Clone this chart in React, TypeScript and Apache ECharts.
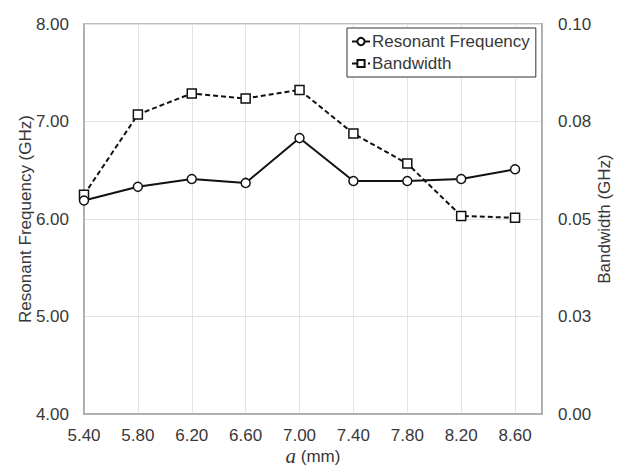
import React, { useEffect, useRef } from "react";
import * as echarts from "echarts";

const xValues = [5.4, 5.8, 6.2, 6.6, 7.0, 7.4, 7.8, 8.2, 8.6];
const xLabels = ["5.40", "5.80", "6.20", "6.60", "7.00", "7.40", "7.80", "8.20", "8.60"];
const resonantFreq = [6.19, 6.33, 6.41, 6.37, 6.83, 6.39, 6.39, 6.41, 6.51];
const bandwidth = [0.0562, 0.0768, 0.0822, 0.0809, 0.0831, 0.0719, 0.0642, 0.0508, 0.0503];
const leftLabels = ["4.00", "5.00", "6.00", "7.00", "8.00"];
const rightLabels = ["0.00", "0.03", "0.05", "0.08", "0.10"];

const FONT = "'Liberation Sans', Arial, sans-serif";
const TEXT = "#383838";
const AXIS = "#a6a6a6";
const GRID = "#e3e3e3";

export default function App() {
  const ref = useRef<HTMLDivElement>(null);
  useEffect(() => {
    if (!ref.current) return;
    const chart = echarts.init(ref.current, undefined, { renderer: "svg" });
    chart.setOption({
      animation: false,
      backgroundColor: "#ffffff",
      textStyle: { fontFamily: FONT },
      grid: {
        left: 84,
        right: 80,
        top: 24,
        bottom: 53,
        show: true,
        borderColor: AXIS,
        borderWidth: 1.5,
        containLabel: false,
        outerBoundsMode: "none",
      },
      legend: {
        orient: "vertical",
        left: 347,
        top: 28,
        padding: [5, 6, 5, 4],
        itemGap: 5,
        itemWidth: 18,
        itemHeight: 9,
        borderColor: "#333",
        borderWidth: 1,
        backgroundColor: "#fff",
        textStyle: { fontFamily: FONT, fontSize: 17, color: TEXT, padding: [0, 0, 0, -3] },
        data: ["Resonant Frequency", "Bandwidth"],
      },
      xAxis: {
        type: "value",
        min: 5.4,
        max: 8.8,
        interval: 0.4,
        name: "{i|a} (mm)",
        nameLocation: "middle",
        nameGap: 33,
        nameMoveOverlap: false,
        nameTextStyle: {
          fontFamily: FONT,
          fontSize: 17,
          lineHeight: 18,
          color: TEXT,
          rich: {
            i: { fontFamily: "'Liberation Serif', serif", fontStyle: "italic", fontSize: 21, lineHeight: 18, color: TEXT },
          },
        },
        axisLine: { show: true, lineStyle: { color: AXIS, width: 1.5 } },
        axisTick: { show: false },
        axisLabel: {
          fontFamily: FONT,
          fontSize: 17,
          color: TEXT,
          margin: 13,
          formatter: (v: number) => {
            const i = Math.round((v - 5.4) / 0.4);
            return Math.abs(v - xValues[i]) < 1e-6 ? xLabels[i] ?? "" : "";
          },
        },
        splitLine: { show: true, lineStyle: { color: GRID, width: 1 } },
      },
      yAxis: [
        {
          type: "value",
          min: 4,
          max: 8,
          interval: 1,
          name: "Resonant Frequency (GHz)",
          nameLocation: "middle",
          nameGap: 50,
          nameMoveOverlap: false,
          nameTextStyle: { fontFamily: FONT, fontSize: 17, color: TEXT },
          axisLine: { show: true, lineStyle: { color: AXIS, width: 1.5 } },
          axisTick: { show: false },
          axisLabel: {
            fontFamily: FONT,
            fontSize: 17,
            color: TEXT,
            margin: 15,
            formatter: (v: number) => leftLabels[Math.round(v - 4)] ?? "",
          },
          splitLine: { show: true, lineStyle: { color: GRID, width: 1 } },
        },
        {
          type: "value",
          min: 0,
          max: 0.1,
          interval: 0.025,
          name: "Bandwidth (GHz)",
          nameLocation: "middle",
          nameGap: 54,
          nameMoveOverlap: false,
          nameTextStyle: { fontFamily: FONT, fontSize: 17, color: TEXT },
          axisLine: { show: true, lineStyle: { color: AXIS, width: 1.5 } },
          axisTick: { show: false },
          axisLabel: {
            fontFamily: FONT,
            fontSize: 17,
            color: TEXT,
            margin: 16,
            formatter: (v: number) => rightLabels[Math.round(v / 0.025)] ?? "",
          },
          splitLine: { show: false },
        },
      ],
      series: [
        {
          name: "Resonant Frequency",
          type: "line",
          yAxisIndex: 0,
          data: xValues.map((x, i) => [x, resonantFreq[i]]),
          symbol: "circle",
          symbolSize: 9,
          lineStyle: { color: "#111", width: 2, type: "solid" },
          itemStyle: { color: "#fff", borderColor: "#111", borderWidth: 1.5 },
          z: 3,
        },
        {
          name: "Bandwidth",
          type: "line",
          yAxisIndex: 1,
          data: xValues.map((x, i) => [x, bandwidth[i]]),
          symbol: "rect",
          symbolSize: 9,
          lineStyle: { color: "#111", width: 2, type: [5, 3] },
          itemStyle: { color: "#fff", borderColor: "#111", borderWidth: 1.5 },
          z: 2,
        },
      ],
    });
    return () => chart.dispose();
  }, []);
  return <div ref={ref} style={{ width: 622, height: 467, position: "absolute", left: 0, top: 0 }} />;
}
